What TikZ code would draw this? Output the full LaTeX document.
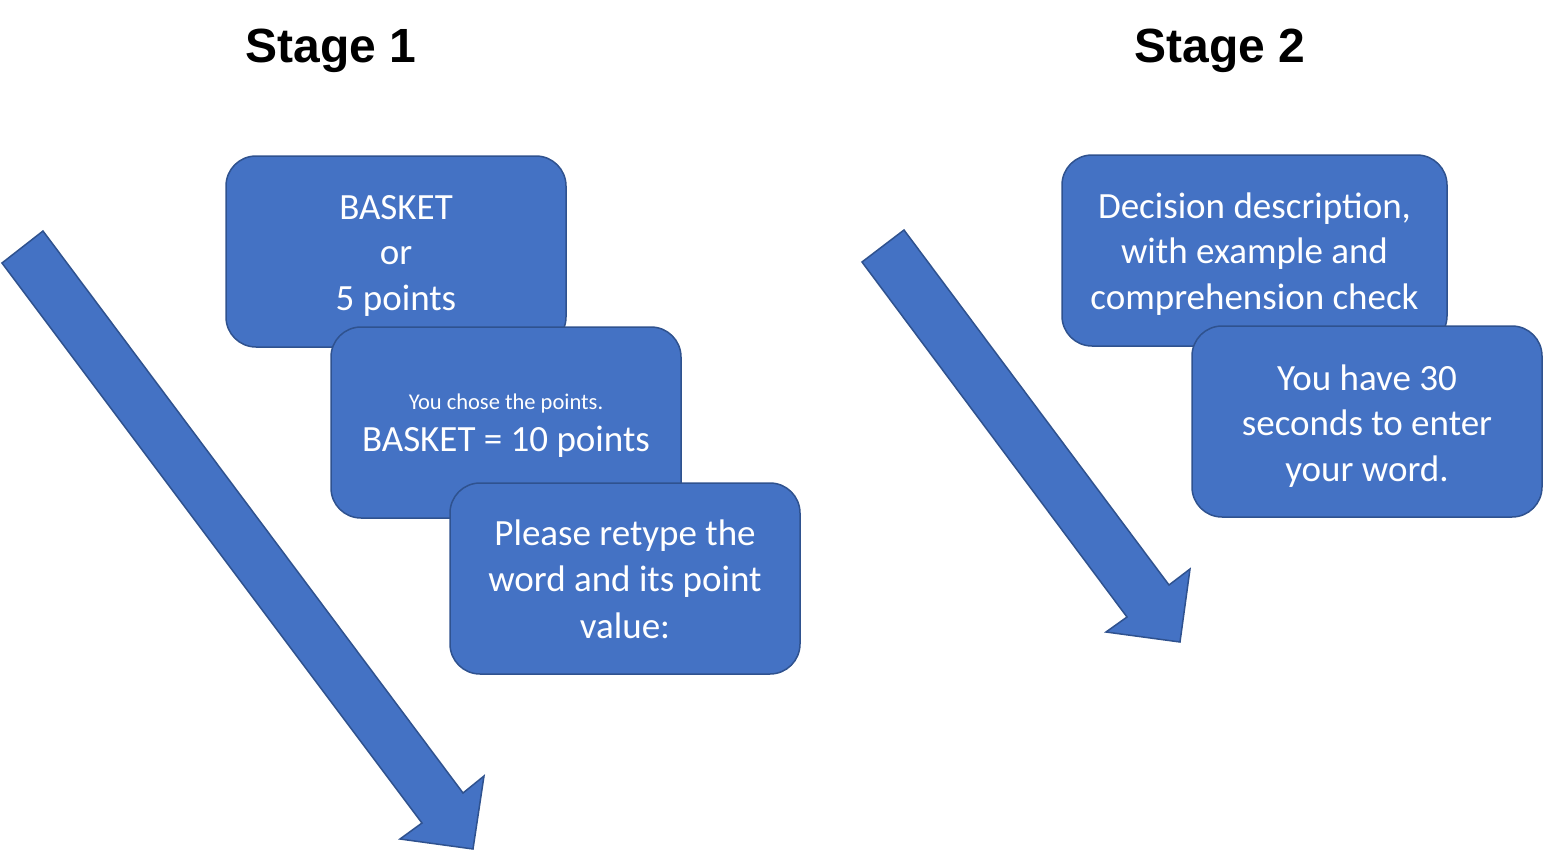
\documentclass[tikz,border=0pt]{standalone}
\usepackage{fontspec}
\setmainfont{Carlito}
\newfontfamily\titlefont{Liberation Sans}
\definecolor{boxfill}{HTML}{4472C4}
\definecolor{boxline}{HTML}{2F528F}
\begin{document}
\begin{tikzpicture}[x=1pt,y=-1pt,
  card/.style={draw=boxline,fill=boxfill,line width=1.5pt,rounded corners=30pt,
    inner sep=0pt,minimum height=191pt},
  cardtext/.style={inner sep=0pt,text=white,align=center,font=\fontsize{37}{45.5}\selectfont},
  bigarrow/.style={draw=boxline,fill=boxfill,line width=1.5pt,line join=miter},
  title/.style={font=\titlefont\bfseries\fontsize{48}{56}\selectfont,inner sep=0pt}]
\useasboundingbox (0,0) rectangle (1543,852);
% titles
\node[title] (t1) at (331,51) {Stage 1};
\node[title] (t2) at (1220,51) {Stage 2};
% arrows
\path[bigarrow] (2,263) -- (43,231) -- (463,793) -- (484,776) -- (473,849) -- (400,839) -- (422,823) -- cycle;
\path[bigarrow] (862,262) -- (904,230) -- (1169,585) -- (1190,569) -- (1180,642) -- (1106,632) -- (1127,617) -- cycle;
% stage 1 cards
\node[card,minimum width=340pt] (a1) at (396,251.5) {};
\node[cardtext] (a1t) at ([yshift=-4pt]a1.center) {BASKET\\or\\5 points};
\node[card,minimum width=350pt] (b1) at (506,422.5) {};
\node[cardtext] (b1t) at ([yshift=-3pt]b1.center) {{\fontsize{22.5}{27}\selectfont You chose the points.}\\[-3pt]BASKET = 10 points};
\node[card,minimum width=350pt] (c1) at (625,578.5) {};
\node[cardtext,font=\fontsize{37}{46.5}\selectfont] (c1t) at ([yshift=-0.5pt]c1.center) {Please retype the\\word and its point\\value:};
% stage 2 cards
\node[card,minimum width=385pt] (d2) at (1254.5,250.5) {};
\node[cardtext] (d2t) at ([yshift=-3.5pt]d2.center) {Decision description,\\with example and\\comprehension check};
\node[card,minimum width=350pt] (e2) at (1367,421.5) {};
\node[cardtext] (e2t) at ([yshift=-4.5pt]e2.center) {You have 30\\seconds to enter\\your word.};
\end{tikzpicture}
\end{document}
